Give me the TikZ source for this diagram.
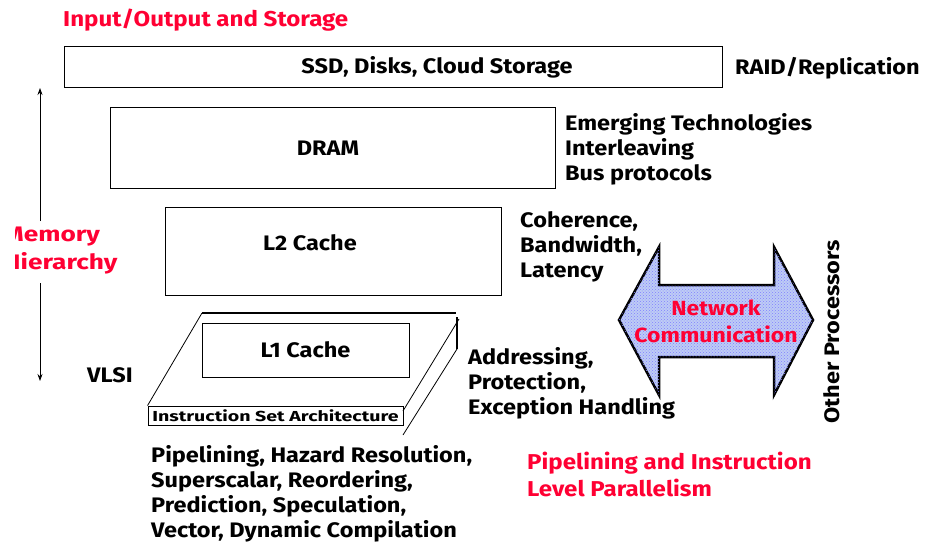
\documentclass[tikz,border=0pt]{standalone}
\usepackage{fontspec}
\setmainfont{Fira Sans}[FakeStretch=1.12]
\usetikzlibrary{arrows.meta,patterns}
\definecolor{redt}{RGB}{255,0,51}
\definecolor{netblue}{RGB}{190,204,245}
\begin{document}
\begin{tikzpicture}[x=1pt,y=-1pt,
  every node/.style={font=\bfseries\fontsize{21}{25}\selectfont, inner sep=0pt},
  box/.style={draw, line width=0.9pt},
  lbl/.style={anchor=west, align=left},
  redlbl/.style={lbl, text=redt, font=\bfseries\fontsize{21.5}{27}\selectfont},
  slab/.style={line width=0.8pt},
  thickslab/.style={line width=2pt},
  memarrow/.style={line width=0.8pt, -{Stealth[length=7pt,width=5pt]}}]
\useasboundingbox (0,0) rectangle (932,543);

% title
\node[redlbl] (io) at (63,20) {Input/Output and Storage};

% storage box
\node[box, minimum width=658pt, minimum height=41pt] (ssd) at (393,66.5) {};
\node (ssdt) at (437,67) {SSD, Disks, Cloud Storage};
\node[lbl] (raid) at (735,68) {RAID/Replication};

% DRAM
\node[box, minimum width=445pt, minimum height=81pt] (dram) at (332.5,147.5) {};
\node (dramt) at (328,148) {DRAM};
\node[lbl] (emerg) at (565,149) {Emerging Technologies\\Interleaving\\Bus protocols};

% L2
\node[box, minimum width=336pt, minimum height=88pt] (l2) at (333,251) {};
\node (l2t) at (310,243) {L2 Cache};
\node[lbl] (coh) at (520,247) {Coherence,\\Bandwidth,\\Latency};

% L1 slab
\coordinate (tl) at (202,313);
\coordinate (tr) at (456,313);
\coordinate (rv) at (457,349);
\coordinate (s1a) at (459,319);
\coordinate (s1b) at (403,411);
\coordinate (s2b) at (403,435);
\node[box, minimum width=255pt, minimum height=19pt] (isa) at (275.5,415.5)
  {\fontsize{14.5}{15}\selectfont\addfontfeature{FakeStretch=1.35}Instruction Set Architecture};
\draw[thickslab] (tl) -- (tr);
\draw[thickslab] (457,317) -- (rv);
\draw[slab] (tl) -- (isa.north west);
\draw[slab] (s1a) -- (s1b);
\draw[slab] (rv) -- (s2b);
\node[box, minimum width=207pt, minimum height=54pt] (l1) at (305.5,350) {L1 Cache};
\node[lbl] (addr) at (468,383) {Addressing,\\Protection,\\Exception Handling};
\node[lbl] (vlsi) at (87,375) {VLSI};

% memory hierarchy arrow
\coordinate (mtop) at (40,88);
\coordinate (mbot) at (40,381);
\coordinate (mg1) at (40,221);
\coordinate (mg2) at (40,283);
\draw[memarrow] (mg1) -- (mtop);
\draw[memarrow] (mg2) -- (mbot);
\begin{scope}
  \clip (15,0) rectangle (932,543);
  \node[redlbl, anchor=west, align=left, font=\bfseries\fontsize{21}{28}\selectfont\addfontfeature{FakeStretch=1.25}] (mem) at (3,251) {Memory\\Hierarchy};
\end{scope}

% network arrow
\draw[line width=2.5pt, line join=miter, fill=netblue,
      postaction={pattern=crosshatch dots, pattern color=blue!50}]
  (619,320) -- (659,247) -- (659,285) -- (774,285) -- (774,247) -- (813,320)
  -- (774,395) -- (774,357) -- (659,357) -- (659,395) -- cycle;
\node[text=redt, align=center, font=\bfseries\fontsize{20.5}{27}\selectfont] (net) at (716,321) {Network\\Communication};
\node[rotate=90] (other) at (832,332) {Other Processors};

% bottom texts
\node[lbl] (pipe) at (151,494) {Pipelining, Hazard Resolution,\\Superscalar, Reordering,\\Prediction, Speculation,\\Vector, Dynamic Compilation};
\node[redlbl] (ilp) at (527,474.5) {Pipelining and Instruction\\Level Parallelism};
\end{tikzpicture}
\end{document}
